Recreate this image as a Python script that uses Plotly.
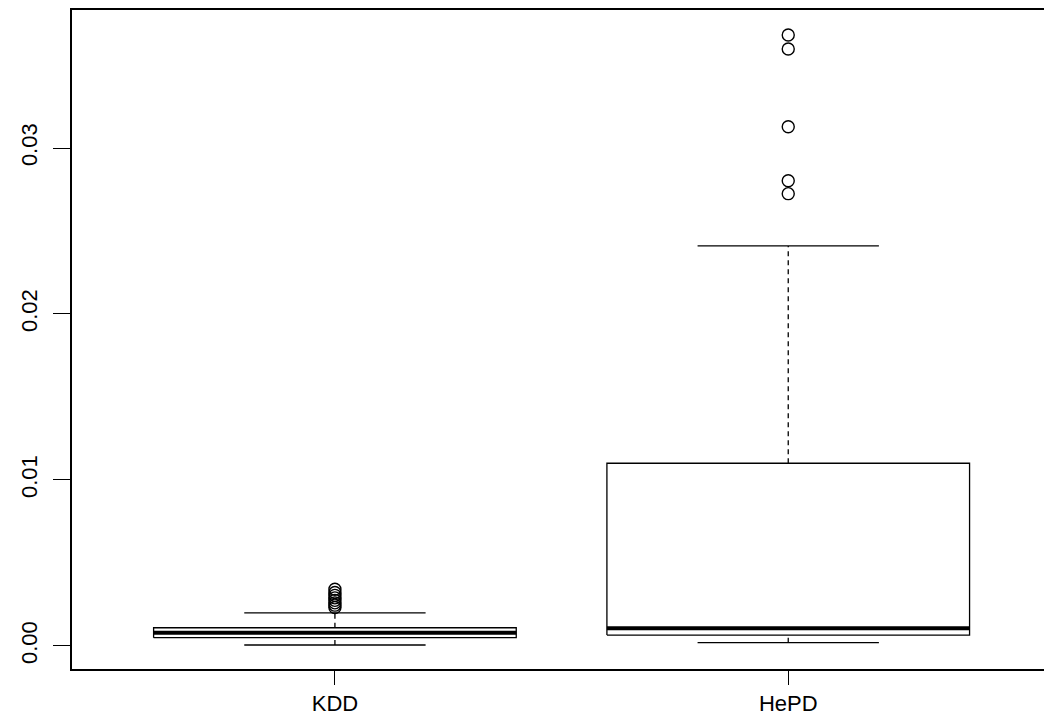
import plotly.graph_objects as go

categories = ["KDD", "HePD"]
lower_whisker = [0.00006, 0.0002]
q1 = [0.0005, 0.00066]
median = [0.0008, 0.00107]
q3 = [0.0011, 0.01101]
upper_whisker = [0.00199, 0.0241]
outliers = [
    [0.00342, 0.00322, 0.00305, 0.00290, 0.00275, 0.00260, 0.00246, 0.00232],
    [0.03681, 0.03596, 0.03128, 0.02803, 0.02725],
]
y_ticks = [0.00, 0.01, 0.02, 0.03]
y_tick_labels = ["0.00", "0.01", "0.02", "0.03"]

positions = list(range(1, len(categories) + 1))
half_box = 0.4
half_cap = 0.2

fig = go.Figure()
for i, pos in enumerate(positions):
    # whiskers (dashed)
    for a, b in [(q3[i], upper_whisker[i]), (lower_whisker[i], q1[i])]:
        fig.add_trace(go.Scatter(x=[pos, pos], y=[a, b], mode="lines",
                                 line=dict(color="black", width=1.3, dash="5px,4px"),
                                 hoverinfo="skip", showlegend=False))
    # caps
    for v in [upper_whisker[i], lower_whisker[i]]:
        fig.add_trace(go.Scatter(x=[pos - half_cap, pos + half_cap], y=[v, v], mode="lines",
                                 line=dict(color="black", width=1.3),
                                 hoverinfo="skip", showlegend=False))
    # box
    fig.add_trace(go.Scatter(
        x=[pos - half_box, pos + half_box, pos + half_box, pos - half_box, pos - half_box],
        y=[q1[i], q1[i], q3[i], q3[i], q1[i]],
        mode="lines", fill="toself", fillcolor="white",
        line=dict(color="black", width=1.3), hoverinfo="skip", showlegend=False))
    # median
    fig.add_trace(go.Scatter(x=[pos - half_box, pos + half_box], y=[median[i], median[i]],
                             mode="lines", line=dict(color="black", width=4),
                             hoverinfo="skip", showlegend=False))
    # outliers
    fig.add_trace(go.Scatter(x=[pos] * len(outliers[i]), y=outliers[i], mode="markers",
                             marker=dict(symbol="circle-open", size=12, color="black",
                                         line=dict(width=1.4, color="black")),
                             showlegend=False))

fig.update_layout(
    width=1044, height=722,
    margin=dict(l=72, r=0, t=10, b=53),
    paper_bgcolor="white", plot_bgcolor="white",
    font=dict(family="Liberation Sans, Arial, sans-serif", size=22, color="black"),
    showlegend=False,
)
fig.update_xaxes(
    range=[0.42, 2.5642], tickmode="array", tickvals=positions, ticktext=categories,
    showgrid=False, zeroline=False, showline=True, linecolor="black", linewidth=1.5,
    mirror=True, ticks="outside", ticklen=14, tickwidth=1.3, tickcolor="black",
    ticklabelstandoff=0,
)
fig.update_yaxes(
    range=[-0.001386, 0.038313], tickmode="array", tickvals=y_ticks, ticktext=y_tick_labels,
    tickangle=-90, showgrid=False, zeroline=False, showline=True, linecolor="black",
    linewidth=1.5, mirror=False, ticks="outside", ticklen=17, tickwidth=1.3,
    tickcolor="black", ticklabelstandoff=7,
)

fig.write_html("out.html")
